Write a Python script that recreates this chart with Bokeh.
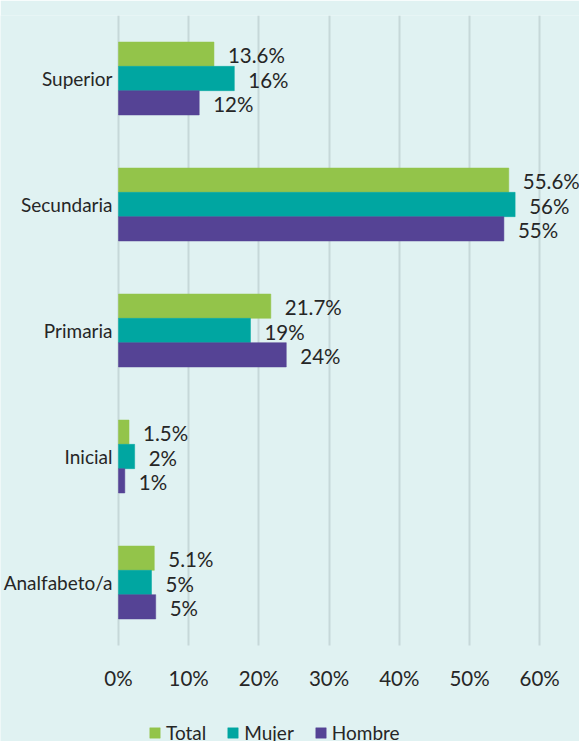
from bokeh.plotting import figure
from bokeh.models import ColumnDataSource, Range1d, FixedTicker, Legend, LegendItem
from bokeh.core.properties import value
from bokeh.transform import dodge
from bokeh.embed import file_html
from bokeh.resources import INLINE

# ---- data ----
categories = ["Analfabeto/a", "Inicial", "Primaria", "Secundaria", "Superior"]
total = [5.1, 1.5, 21.7, 55.6, 13.6]
mujer = [4.7, 2.3, 18.8, 56.5, 16.5]
hombre = [5.3, 0.9, 23.9, 54.9, 11.5]
total_labels = ["5.1%", "1.5%", "21.7%", "55.6%", "13.6%"]
mujer_labels = ["5%", "2%", "19%", "56%", "16%"]
hombre_labels = ["5%", "1%", "24%", "55%", "12%"]
series_names = ["Total", "Mujer", "Hombre"]
tick_values = [0, 10, 20, 30, 40, 50, 60]
tick_labels = ["0%", "10%", "20%", "30%", "40%", "50%", "60%"]

# ---- style ----
BG = "#e0f2f2"
GRID = "#c6d8d9"
TXT = "#262626"
FONT = "Lato"
FS_NUM = "20.5px"
FS_WORD = "19px"
COLORS = ["#93c44a", "#00a6a1", "#554395"]
BAR_H = 0.193
OFFS = [BAR_H, 0.0, -BAR_H]
W, H = 579, 741
PX_PER_UNIT = 7.02      # horizontal scale (px per percentage point)
ZERO_PX = 118           # where 0% sits
BAND_PX = 126           # height of one category band
TOP_PX = 15

pos = list(range(len(categories)))
src = ColumnDataSource(dict(pos=pos, total=total, mujer=mujer, hombre=hombre,
                            total_lbl=total_labels, mujer_lbl=mujer_labels, hombre_lbl=hombre_labels))

n = len(categories)
y_hi = n - 0.5
y_lo = y_hi - (H - TOP_PX) / BAND_PX
x_lo = -ZERO_PX / PX_PER_UNIT
x_hi = (W - ZERO_PX) / PX_PER_UNIT

p = figure(x_range=Range1d(x_lo, x_hi), y_range=Range1d(y_lo, y_hi),
           width=W, height=H, output_backend="svg", toolbar_location=None,
           min_border=0, min_border_top=TOP_PX)

p.background_fill_color = BG
p.border_fill_color = BG
p.outline_line_color = None

items = []
for name, col, lbl, color, off in zip(series_names, ["total", "mujer", "hombre"],
                                        ["total_lbl", "mujer_lbl", "hombre_lbl"], COLORS, OFFS):
    r = p.hbar(y=dodge("pos", off), right=col, left=0, height=BAR_H,
               source=src, fill_color=color, line_color=color, line_width=0.5)
    p.text(x=col, y=dodge("pos", off), text=lbl, source=src,
           x_offset=14, y_offset=1, text_align="left", text_baseline="middle",
           text_font=value(FONT), text_font_size=FS_NUM, text_color=TXT)
    items.append(LegendItem(label=name, renderers=[r]))

# x axis drawn at the bottom of the category area
p.xaxis.fixed_location = -0.5
p.xaxis.ticker = FixedTicker(ticks=tick_values)
p.xaxis.major_label_overrides = {v: l for v, l in zip(tick_values, tick_labels)}
p.xaxis.axis_line_color = None
p.xaxis.major_tick_line_color = None
p.xaxis.minor_tick_line_color = None
p.xaxis.major_tick_out = 0
p.xaxis.major_tick_in = 0
p.xaxis.major_label_standoff = 20
p.xaxis.major_label_text_font = FONT
p.xaxis.major_label_text_font_size = FS_NUM
p.xaxis.major_label_text_color = TXT

# y axis at 0%: categories as tick labels
p.yaxis.fixed_location = 0
p.yaxis.ticker = FixedTicker(ticks=pos)
p.yaxis.major_label_overrides = {i: c for i, c in zip(pos, categories)}
p.yaxis.axis_line_color = None
p.yaxis.major_tick_line_color = None
p.yaxis.minor_tick_line_color = None
p.yaxis.major_tick_out = 0
p.yaxis.major_tick_in = 0
p.yaxis.major_label_standoff = 6
p.yaxis.major_label_text_font = FONT
p.yaxis.major_label_text_font_size = FS_WORD
p.yaxis.major_label_text_color = TXT

p.xgrid.grid_line_color = GRID
p.xgrid.grid_line_width = 2
p.xgrid.cross_bounds = (-0.5, y_hi)
p.ygrid.grid_line_color = None

legend = Legend(items=items, orientation="horizontal", location=(148, -3),
                glyph_width=13, glyph_height=13, label_standoff=5, spacing=20,
                padding=0, margin=0, background_fill_alpha=0, border_line_color=None,
                label_text_font=FONT, label_text_font_size=FS_WORD, label_text_color=TXT)
p.add_layout(legend, "center")

html = file_html(p, INLINE)
html = html.replace("<body>", '<body style="background-color: %s;">' % BG, 1)
open("out.html", "w").write(html)
